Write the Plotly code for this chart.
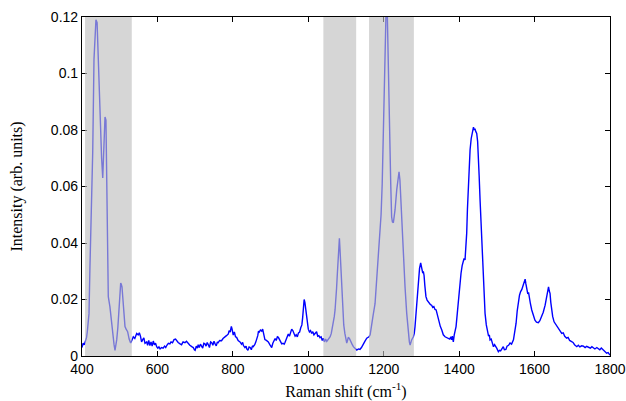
import plotly.graph_objects as go

# Raman shift (cm^-1) and intensity (arb. units)
shift = [
    400, 403, 406, 409, 412, 414, 416, 418.6, 421, 425.7, 428.4, 431.8, 435, 437, 440, 443, 446, 449.6, 452, 455,
    458, 461, 463.5, 467, 469.7, 474, 478, 481.4, 485, 487.5, 490, 492, 495, 497.3, 500, 502.6, 504, 506, 508, 509.5,
    512, 514, 517, 521, 525, 529, 532, 536, 540, 545, 549, 552, 555, 558, 561, 564, 567, 571.5, 574, 577,
    580, 583, 586, 589, 592, 595, 598, 601, 604, 607, 611, 615, 619, 622, 625, 629, 633, 636, 640, 644,
    648, 651, 655, 660, 664, 668, 673, 677, 682, 686, 691, 695, 698, 700, 703, 706, 708, 711, 714, 717,
    720, 723, 726, 729, 732, 735, 738, 741, 744, 747, 750, 753, 756, 759, 761, 765, 770, 774, 779, 783,
    788, 790, 793, 796, 798, 801, 804, 807, 810, 814, 819, 823, 826, 828, 832, 835, 837, 840, 843, 846,
    849, 852, 854, 858, 861, 863, 866, 868, 870, 873, 876.5, 879, 881, 883, 885, 889, 894, 898, 901, 903,
    906, 909, 912, 915, 918, 920.6, 924, 927, 929.6, 933, 936, 938, 941, 944, 947, 950, 953, 956, 959, 962,
    965, 968, 971, 974, 977, 980, 983, 985, 987, 989, 991, 994, 997, 1000, 1003, 1006, 1009, 1012, 1015, 1018,
    1022, 1025, 1028, 1031, 1034, 1037, 1040, 1043, 1046, 1049, 1052, 1055, 1058, 1061, 1064, 1066, 1069, 1071, 1073.6, 1075,
    1077, 1079, 1081, 1082.5, 1084, 1086, 1088, 1091, 1094, 1097, 1100, 1102, 1104, 1106, 1109, 1112, 1116, 1119.5, 1124, 1128.5,
    1133, 1137, 1141, 1146, 1150, 1155, 1161, 1164, 1168, 1172, 1177, 1181, 1185, 1190, 1193, 1196, 1199, 1201, 1203.5, 1206,
    1209.5, 1212, 1215, 1218.6, 1221, 1223, 1225.6, 1228, 1230, 1234.5, 1238, 1240.6, 1243, 1245, 1247.8, 1252, 1256.5, 1261, 1265, 1268,
    1270, 1274, 1278.6, 1281, 1283, 1285.5, 1287.6, 1290, 1292, 1295, 1298, 1300, 1303.5, 1305, 1307, 1309, 1312, 1315, 1318, 1321,
    1324, 1327, 1330, 1333, 1336, 1339, 1342, 1345, 1350, 1354, 1358, 1362.6, 1367, 1371, 1375, 1378, 1380, 1382, 1384.6, 1387,
    1391.8, 1395, 1398, 1401, 1405, 1408, 1411, 1413, 1415.6, 1418, 1420, 1422, 1424.5, 1427, 1429, 1432, 1436, 1438, 1440, 1442,
    1444, 1446.6, 1449, 1451, 1453, 1455.5, 1458, 1460, 1462, 1464, 1466, 1468.7, 1472, 1475, 1478, 1480, 1482, 1485, 1488, 1491,
    1494, 1497, 1500, 1504, 1507, 1510, 1513, 1517, 1520, 1524, 1527, 1531, 1535, 1539, 1544, 1548, 1551, 1554, 1557, 1560,
    1563, 1566, 1570, 1573, 1575, 1577, 1579, 1582, 1584, 1586, 1589, 1592.5, 1596, 1601, 1605, 1610, 1614, 1619, 1623, 1628,
    1632, 1635, 1637, 1639, 1641, 1643, 1645, 1648, 1651.7, 1655, 1660, 1664, 1668, 1672, 1676, 1680, 1685, 1689, 1693, 1698.6,
    1702, 1706, 1712, 1716, 1720, 1725, 1729.6, 1734, 1738, 1743, 1748, 1752, 1756, 1760, 1765, 1769, 1773, 1777, 1782, 1786,
    1791, 1795, 1800,
]
intensity = [
    0.0030, 0.0045, 0.0040, 0.0050, 0.0065, 0.0085, 0.0120, 0.0150, 0.0310, 0.0550, 0.0720, 0.1050, 0.1170, 0.1190, 0.1180, 0.1050, 0.0920, 0.0765, 0.0700, 0.0630,
    0.0740, 0.0846, 0.0835, 0.0550, 0.0210, 0.0175, 0.0120, 0.0080, 0.0040, 0.0020, 0.0040, 0.0057, 0.0100, 0.0140, 0.0200, 0.0258, 0.0255, 0.0245, 0.0200, 0.0163,
    0.0120, 0.0104, 0.0095, 0.0086, 0.0060, 0.0046, 0.0055, 0.0068, 0.0062, 0.0080, 0.0075, 0.0082, 0.0070, 0.0050, 0.0058, 0.0064, 0.0045, 0.0050, 0.0038, 0.0055,
    0.0037, 0.0050, 0.0035, 0.0053, 0.0040, 0.0045, 0.0033, 0.0028, 0.0032, 0.0025, 0.0030, 0.0028, 0.0035, 0.0030, 0.0038, 0.0045, 0.0043, 0.0050, 0.0047, 0.0058,
    0.0060, 0.0054, 0.0048, 0.0043, 0.0040, 0.0050, 0.0047, 0.0052, 0.0043, 0.0038, 0.0033, 0.0030, 0.0022, 0.0020, 0.0035, 0.0028, 0.0040, 0.0030, 0.0042, 0.0035,
    0.0028, 0.0045, 0.0043, 0.0035, 0.0048, 0.0040, 0.0030, 0.0050, 0.0047, 0.0038, 0.0052, 0.0043, 0.0036, 0.0050, 0.0047, 0.0055, 0.0054, 0.0062, 0.0066, 0.0072,
    0.0078, 0.0090, 0.0085, 0.0105, 0.0095, 0.0074, 0.0085, 0.0068, 0.0066, 0.0055, 0.0050, 0.0042, 0.0048, 0.0037, 0.0030, 0.0035, 0.0025, 0.0020, 0.0032, 0.0030,
    0.0022, 0.0036, 0.0033, 0.0040, 0.0050, 0.0058, 0.0072, 0.0088, 0.0085, 0.0092, 0.0088, 0.0095, 0.0085, 0.0072, 0.0058, 0.0055, 0.0050, 0.0040, 0.0035, 0.0030,
    0.0045, 0.0058, 0.0062, 0.0055, 0.0068, 0.0066, 0.0058, 0.0048, 0.0043, 0.0045, 0.0042, 0.0047, 0.0060, 0.0072, 0.0078, 0.0070, 0.0082, 0.0095, 0.0090, 0.0078,
    0.0070, 0.0075, 0.0068, 0.0082, 0.0085, 0.0100, 0.0110, 0.0135, 0.0170, 0.0200, 0.0190, 0.0150, 0.0115, 0.0095, 0.0085, 0.0090, 0.0080, 0.0086, 0.0075, 0.0080,
    0.0086, 0.0070, 0.0072, 0.0065, 0.0068, 0.0055, 0.0063, 0.0050, 0.0060, 0.0052, 0.0058, 0.0062, 0.0068, 0.0080, 0.0100, 0.0116, 0.0140, 0.0163, 0.0198, 0.0240,
    0.0290, 0.0350, 0.0405, 0.0417, 0.0380, 0.0316, 0.0250, 0.0163, 0.0110, 0.0080, 0.0060, 0.0046, 0.0055, 0.0066, 0.0062, 0.0050, 0.0042, 0.0033, 0.0028, 0.0021,
    0.0025, 0.0023, 0.0030, 0.0046, 0.0052, 0.0063, 0.0068, 0.0075, 0.0104, 0.0145, 0.0185, 0.0270, 0.0340, 0.0430, 0.0500, 0.0610, 0.0790, 0.0906, 0.1140, 0.1210,
    0.1210, 0.1020, 0.0790, 0.0610, 0.0493, 0.0475, 0.0472, 0.0490, 0.0517, 0.0588, 0.0630, 0.0652, 0.0623, 0.0560, 0.0493, 0.0375, 0.0245, 0.0151, 0.0080, 0.0050,
    0.0039, 0.0057, 0.0068, 0.0080, 0.0104, 0.0150, 0.0198, 0.0245, 0.0280, 0.0310, 0.0330, 0.0320, 0.0293, 0.0300, 0.0285, 0.0250, 0.0210, 0.0198, 0.0192, 0.0188,
    0.0182, 0.0180, 0.0172, 0.0175, 0.0165, 0.0163, 0.0145, 0.0127, 0.0105, 0.0092, 0.0075, 0.0068, 0.0066, 0.0063, 0.0060, 0.0068, 0.0057, 0.0070, 0.0050, 0.0075,
    0.0104, 0.0150, 0.0198, 0.0245, 0.0293, 0.0320, 0.0334, 0.0345, 0.0340, 0.0390, 0.0434, 0.0520, 0.0610, 0.0690, 0.0730, 0.0770, 0.0800, 0.0810, 0.0800, 0.0805,
    0.0795, 0.0788, 0.0760, 0.0718, 0.0640, 0.0552, 0.0470, 0.0399, 0.0320, 0.0257, 0.0200, 0.0151, 0.0110, 0.0080, 0.0070, 0.0075, 0.0057, 0.0060, 0.0045, 0.0033,
    0.0040, 0.0030, 0.0027, 0.0015, 0.0020, 0.0018, 0.0025, 0.0033, 0.0022, 0.0023, 0.0035, 0.0038, 0.0046, 0.0042, 0.0057, 0.0085, 0.0116, 0.0160, 0.0198, 0.0215,
    0.0228, 0.0235, 0.0251, 0.0265, 0.0272, 0.0255, 0.0234, 0.0220, 0.0225, 0.0204, 0.0185, 0.0163, 0.0145, 0.0127, 0.0120, 0.0118, 0.0125, 0.0139, 0.0155, 0.0180,
    0.0216, 0.0235, 0.0245, 0.0230, 0.0222, 0.0190, 0.0163, 0.0140, 0.0121, 0.0115, 0.0104, 0.0098, 0.0088, 0.0080, 0.0082, 0.0070, 0.0063, 0.0066, 0.0055, 0.0051,
    0.0048, 0.0040, 0.0033, 0.0038, 0.0032, 0.0036, 0.0035, 0.0030, 0.0034, 0.0031, 0.0028, 0.0033, 0.0030, 0.0025, 0.0030, 0.0027, 0.0022, 0.0028, 0.0021, 0.0018,
    0.0010, 0.0012, 0.0003,
]

# shaded bands (start, end) in cm^-1
band_start = [408, 1040, 1161]
band_end = [532, 1127, 1280]

x_ticks = [400, 600, 800, 1000, 1200, 1400, 1600, 1800]
y_ticks = [0, 0.02, 0.04, 0.06, 0.08, 0.1, 0.12]
y_tick_labels = ["0", "0.02", "0.04", "0.06", "0.08", "0.1", "0.12"]

fig = go.Figure()
fig.add_trace(go.Scatter(x=shift, y=intensity, mode="lines",
                         line=dict(color="#0000ff", width=1.4), showlegend=False))

for s, e in zip(band_start, band_end):
    fig.add_shape(type="rect", xref="x", yref="paper", x0=s, x1=e, y0=0, y1=1,
                  fillcolor="rgb(190,190,190)", opacity=0.63, line=dict(width=0),
                  layer="above")

axis_common = dict(showline=True, linecolor="black", linewidth=1.2, mirror="ticks",
                   ticks="inside", ticklen=5, tickcolor="black", showgrid=False,
                   zeroline=False, automargin=False,
                   tickfont=dict(family="Arial, Liberation Sans", size=14, color="black"))

fig.update_xaxes(range=[400, 1800], tickvals=x_ticks,
                 title=dict(text="Raman shift (cm<sup>-1</sup>)", standoff=11,
                            font=dict(family="Times New Roman, Liberation Serif", size=16, color="black")),
                 **axis_common)
fig.update_yaxes(range=[0, 0.12], tickvals=y_ticks, ticktext=y_tick_labels,
                 title=dict(text="Intensity (arb. units)", standoff=24,
                            font=dict(family="Times New Roman, Liberation Serif", size=16, color="black")),
                 **axis_common)

fig.update_layout(width=626, height=401, margin=dict(l=82, r=16, t=17, b=45),
                  plot_bgcolor="white", paper_bgcolor="white")

fig.write_html("out.html")
